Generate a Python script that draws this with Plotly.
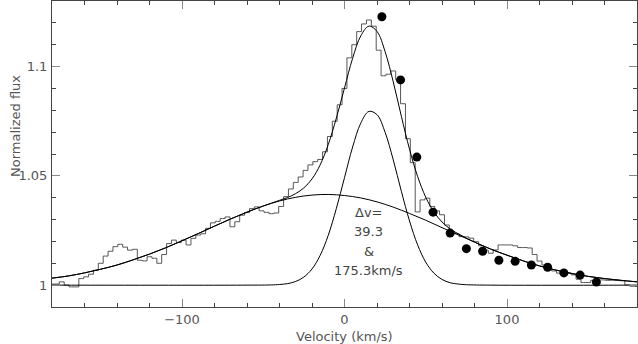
import plotly.graph_objects as go

# observed line profile, 3 km/s bins
velocity = list(range(-180, 181, 3))
flux = [
    1.0005, 1.0005, 1.0015, 1.0000, 0.9992, 0.9992, 1.0030, 1.0038, 1.0050, 1.0068,
    1.0100, 1.0133, 1.0155, 1.0176, 1.0187, 1.0174, 1.0160, 1.0164, 1.0114, 1.0111,
    1.0130, 1.0123, 1.0100, 1.0140, 1.0190, 1.0206, 1.0195, 1.0206, 1.0184, 1.0214,
    1.0229, 1.0235, 1.0260, 1.0285, 1.0292, 1.0305, 1.0312, 1.0267, 1.0290, 1.0320,
    1.0332, 1.0350, 1.0358, 1.0340, 1.0333, 1.0327, 1.0330, 1.0360, 1.0405, 1.0440,
    1.0470, 1.0495, 1.0525, 1.0550, 1.0565, 1.0575, 1.0610, 1.0680, 1.0750, 1.0825,
    1.0900, 1.1040, 1.1100, 1.1160, 1.1195, 1.1213, 1.1185, 1.1075, 1.0958, 1.0965,
    1.0980, 1.0940, 1.0830, 1.0670, 1.0560, 1.0335, 1.0390, 1.0398, 1.0360, 1.0340,
    1.0322, 1.0275, 1.0245, 1.0235, 1.0222, 1.0221, 1.0215, 1.0199, 1.0180, 1.0160,
    1.0146, 1.0161, 1.0184, 1.0184, 1.0184, 1.0180, 1.0172, 1.0172, 1.0170, 1.0140,
    1.0110, 1.0092, 1.0075, 1.0065, 1.0055, 1.0055, 1.0055, 1.0047, 1.0027, 1.0012,
    1.0012, 1.0022, 1.0024, 1.0024, 1.0022, 1.0022, 1.0022, 1.0020, 1.0001, 0.9995,
    0.9994,
]

# narrow gaussian component (FWHM 39.3 km/s)
narrow_v = [-180, -60, -45, -40, -35, -30, -25, -20, -15, -10, -5, 0, 5, 10, 15, 20,
            25, 30, 35, 40, 45, 50, 55, 60, 65, 70, 75, 90, 180]
narrow_f = [1.0000, 1.0000, 1.0001, 1.0003, 1.0007, 1.0017, 1.0037, 1.0074, 1.0136,
            1.0228, 1.0351, 1.0492, 1.0632, 1.0741, 1.0795, 1.0780, 1.0699, 1.0573,
            1.0429, 1.0294, 1.0184, 1.0105, 1.0055, 1.0026, 1.0011, 1.0005, 1.0002,
            1.0000, 1.0000]

# broad gaussian component (FWHM 175.3 km/s)
broad_v = list(range(-180, 181, 10))
broad_f = [1.0032, 1.0042, 1.0056, 1.0073, 1.0092, 1.0116, 1.0142, 1.0171, 1.0203,
           1.0236, 1.0270, 1.0303, 1.0334, 1.0362, 1.0385, 1.0402, 1.0412, 1.0415,
           1.0410, 1.0399, 1.0381, 1.0357, 1.0328, 1.0297, 1.0263, 1.0230, 1.0197,
           1.0165, 1.0137, 1.0111, 1.0088, 1.0069, 1.0053, 1.0040, 1.0030, 1.0022,
           1.0015]

# two-component fit
fit_v = [-180, -170, -160, -150, -140, -130, -120, -110, -100, -90, -80, -70, -60,
         -50, -45, -40, -35, -30, -25, -20, -15, -10, -5, 0, 5, 10, 15, 20, 25, 30,
         35, 40, 45, 50, 55, 60, 65, 70, 75, 80, 90, 100, 110, 120, 130, 140, 150,
         160, 170, 180]
fit_f = [1.0032, 1.0042, 1.0056, 1.0073, 1.0092, 1.0116, 1.0142, 1.0171, 1.0203,
         1.0236, 1.0270, 1.0303, 1.0334, 1.0362, 1.0375, 1.0388, 1.0401, 1.0419,
         1.0445, 1.0486, 1.0550, 1.0643, 1.0765, 1.0902, 1.1038, 1.1140, 1.1185,
         1.1161, 1.1068, 1.0930, 1.0772, 1.0622, 1.0497, 1.0402, 1.0335, 1.0289,
         1.0257, 1.0235, 1.0215, 1.0197, 1.0165, 1.0137, 1.0111, 1.0088, 1.0069,
         1.0053, 1.0040, 1.0030, 1.0022, 1.0015]

# comparison points
dot_v = [23, 34.5, 44.5, 54.5, 65, 75, 85, 95, 105, 115, 125, 135, 145, 155]
dot_f = [1.1228, 1.0939, 1.0586, 1.0334, 1.0238, 1.0167, 1.0155, 1.0114, 1.0109,
         1.0092, 1.0082, 1.0056, 1.0046, 1.0014]

label_lines = ["\u0394v=", "39.3", "&", "175.3km/s"]
label_y = [1.0334, 1.0244, 1.0156, 1.0065]

FONT = 'DejaVu Sans'

fig = go.Figure()
fig.add_trace(go.Scatter(x=velocity, y=flux, mode='lines', line=dict(shape='hvh', color='#555', width=1)))
fig.add_trace(go.Scatter(x=narrow_v, y=narrow_f, mode='lines', line=dict(shape='spline', color='black', width=1)))
fig.add_trace(go.Scatter(x=broad_v, y=broad_f, mode='lines', line=dict(shape='spline', color='black', width=1)))
fig.add_trace(go.Scatter(x=fit_v, y=fit_f, mode='lines', line=dict(shape='spline', color='black', width=1)))
fig.add_trace(go.Scatter(x=dot_v, y=dot_f, mode='markers', marker=dict(size=9, color='black')))

for text, yy in zip(label_lines, label_y):
    fig.add_annotation(x=15, y=yy, text=text, showarrow=False,
                       font=dict(family=FONT, size=13, color='#444'))

# axis titles placed by hand
fig.add_annotation(x=0, xref='x', y=0, yref='paper', yshift=-29, yanchor='middle',
                   text='Velocity (km/s)', showarrow=False, font=dict(family=FONT, size=13, color='#555'))
fig.add_annotation(x=0, xref='paper', xshift=-46, y=0.59, yref='paper', textangle=-90,
                   text='Normalized flux', showarrow=False, font=dict(family=FONT, size=13, color='#555'))

axis_style = dict(showline=True, linecolor='#444', linewidth=1, mirror='ticks', automargin=False,
                  ticks='inside', ticklen=8, tickcolor='#888', showgrid=False, zeroline=False,
                  tickfont=dict(family=FONT, size=13, color='#555'))

fig.update_layout(
    width=638, height=344, showlegend=False,
    paper_bgcolor='white', plot_bgcolor='white',
    margin=dict(l=52, r=1, t=1, b=37, autoexpand=False),
    font=dict(family=FONT, size=13, color='#555'),
    xaxis=dict(range=[-180, 180], tickvals=[-100, 0, 100], ticktext=['\u2212100', '0', '100'],
               minor=dict(dtick=20, ticklen=4, ticks='inside', tickcolor='#444'), **axis_style),
    yaxis=dict(range=[0.99, 1.13], tickvals=[1, 1.05, 1.1], ticktext=['1', '1.05', '1.1'],
               ticklabelstandoff=1,
               minor=dict(dtick=0.01, tick0=1, ticklen=4, ticks='inside', tickcolor='#444'), **axis_style),
)

# page body has a default 8px margin; drop it so the figure sits at the window corner
fig.write_html("out.html", config={'displayModeBar': False},
               post_script="document.body.style.margin='0';")
